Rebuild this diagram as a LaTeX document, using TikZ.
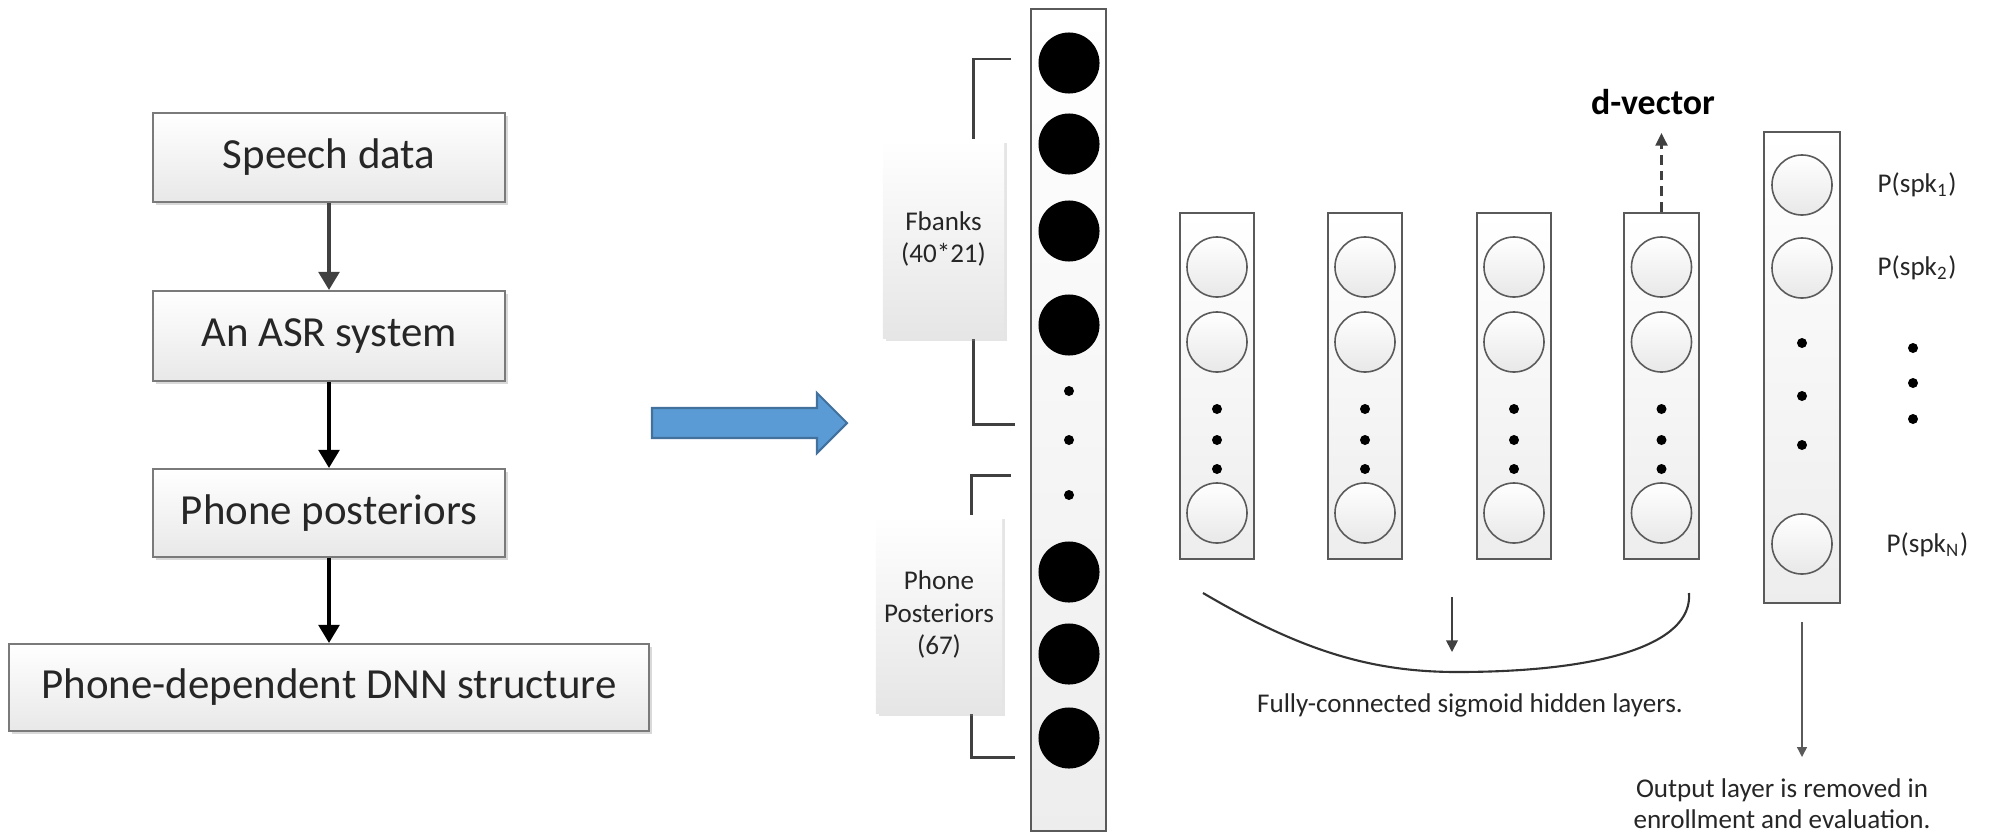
\documentclass[tikz,border=0pt]{standalone}
\usepackage{fontspec}
\setmainfont{Carlito}
\usetikzlibrary{arrows.meta,shadows}
\definecolor{txt}{HTML}{262626}
\definecolor{boxline}{HTML}{7A7A7A}
\definecolor{layerline}{HTML}{5A5A5A}
\definecolor{brk}{HTML}{404040}
\definecolor{arrA}{HTML}{404040}
\definecolor{blueF}{HTML}{5B9BD5}
\definecolor{blueD}{HTML}{41719C}
\definecolor{curvec}{HTML}{333333}
\begin{document}
\begin{tikzpicture}[x=0.01cm,y=-0.01cm,
  flowbox/.style={draw=boxline, line width=0.5pt, top color=white, bottom color=black!9, text=txt,
    font=\fontsize{12.2}{14}\selectfont, inner sep=0pt,
    drop shadow={shadow xshift=0.8pt, shadow yshift=-0.8pt, opacity=0.3, fill=black!50}},
  flowarrow/.style={line width=1.4pt, -{Triangle[width=5.8pt,length=5.2pt]}},
  lblbox/.style={top color=white, bottom color=black!10, inner sep=0pt, align=center, text=txt,
    font=\fontsize{7.7}{9.3}\selectfont,
    drop shadow={shadow xshift=0.8pt, shadow yshift=-0.8pt, opacity=0.25, fill=black!40}},
  layer/.style={draw=layerline, line width=0.45pt, top color=white, bottom color=black!7, inner sep=0pt},
  neuron/.style={circle, draw=layerline, line width=0.45pt, top color=white, bottom color=black!9,
    minimum size=0.6cm, inner sep=0pt},
  bneuron/.style={circle, fill=black, minimum size=0.61cm, inner sep=0pt},
  dotn/.style={circle, fill=black, minimum size=0.1cm, inner sep=0pt},
  bracket/.style={draw=brk, line width=0.85pt},
  dasharrow/.style={draw=brk, line width=0.7pt, dash pattern=on 2.8pt off 1.7pt,
    -{Triangle[width=3.4pt,length=3.6pt]}},
  thinarrow/.style={draw=layerline, line width=0.4pt, -{Triangle[width=2.8pt,length=2.8pt]}},
  midarrow/.style={draw=brk, line width=0.5pt, -{Triangle[width=3.3pt,length=3.3pt]}},
  curveline/.style={draw=curvec, line width=0.6pt},
  smalltxt/.style={text=txt, font=\fontsize{7.7}{9}\selectfont, inner sep=0pt, anchor=base},
  ptxt/.style={text=txt, font=\fontsize{7.7}{9}\selectfont, inner sep=0pt, anchor=west}
]
\useasboundingbox (0,0) rectangle (1990,833);

% ---------- flowchart ----------
\node[flowbox, minimum width=3.52cm, minimum height=0.89cm] (speech) at (329,157.5) {Speech data};
\node[flowbox, minimum width=3.52cm, minimum height=0.90cm] (asr) at (329,336) {An ASR system};
\node[flowbox, minimum width=3.52cm, minimum height=0.88cm] (post) at (329,513) {Phone posteriors};
\node[flowbox, minimum width=6.40cm, minimum height=0.87cm] (dnn) at (329,687.5) {Phone-dependent DNN structure};
\draw[flowarrow, draw=arrA, fill=arrA] (speech) -- (asr);
\draw[flowarrow, draw=black, fill=black] (asr) -- (post);
\draw[flowarrow, draw=black, fill=black] (post) -- (dnn);

% ---------- big blue arrow ----------
\draw[fill=blueF, draw=blueD, line width=0.6pt, line join=miter]
  (652,408) -- (817,408) -- (817,393) -- (847,423) -- (817,453) -- (817,438) -- (652,438) -- cycle;

% ---------- input layer ----------
\node[layer, minimum width=0.75cm, minimum height=8.22cm] (inbox) at (1068.5,420) {};
\foreach \y [count=\i] in {63,144,231,325,572,654,738}
  \node[bneuron] (in\i) at (1069,\y) {};
\foreach \y [count=\i] in {391,440,495}
  \node[dotn] (ind\i) at (1069,\y) {};

% brackets and labels
\coordinate (b1a) at (1011,59);
\coordinate (b1b) at (973,140);
\coordinate (b1c) at (973,338);
\coordinate (b1d) at (1015,424);
\draw[bracket] (b1a) -| (b1b);
\draw[bracket] (b1c) |- (b1d);
\node[lblbox, minimum width=1.21cm, minimum height=1.98cm] (fb) at (943.5,239) {Fbanks\\(40*21)};

\coordinate (b2a) at (1011,475);
\coordinate (b2b) at (971,516);
\coordinate (b2c) at (971,713);
\coordinate (b2d) at (1015,757);
\draw[bracket] (b2a) -| (b2b);
\draw[bracket] (b2c) |- (b2d);
\node[lblbox, minimum width=1.26cm, minimum height=1.97cm] (pp) at (939,614.5) {Phone\\Posteriors\\(67)};

% ---------- hidden layers ----------
\foreach \cx [count=\k] in {1217,1365,1514,1661.5} {
  \node[layer, minimum width=0.745cm, minimum height=3.46cm] (h\k) at (\cx,386) {};
  \node[neuron] (h\k-a) at (\cx,267) {};
  \node[neuron] (h\k-b) at (\cx,342) {};
  \node[neuron] (h\k-c) at (\cx,513) {};
  \node[dotn] (h\k-d1) at (\cx,409) {};
  \node[dotn] (h\k-d2) at (\cx,440) {};
  \node[dotn] (h\k-d3) at (\cx,469) {};
}

% d-vector
\node[text=black, font=\bfseries\fontsize{10.2}{12}\selectfont, anchor=base, inner sep=0pt] (dvec) at (1653,114) {d-vector};
\coordinate (dvtip) at (1661.5,133);
\draw[dasharrow] (h4.north) -- (dvtip);

% ---------- output layer ----------
\node[layer, minimum width=0.76cm, minimum height=4.71cm] (outbox) at (1802,367.5) {};
\node[neuron] (o1) at (1802,185) {};
\node[neuron] (o2) at (1802,268) {};
\node[neuron] (oN) at (1802,544) {};
\foreach \y [count=\i] in {343,396,445}
  \node[dotn] (od\i) at (1802,\y) {};

\node[ptxt] (p1) at (1877,185) {P(spk\textsubscript{1})};
\node[ptxt] (p2) at (1877,268) {P(spk\textsubscript{2})};
\node[ptxt] (pN) at (1886,545) {P(spk\textsubscript{N})};
\foreach \y [count=\i] in {348,383,419}
  \node[dotn] (pd\i) at (1913,\y) {};

% ---------- bottom annotations ----------
\coordinate (cl) at (1203,593);
\coordinate (cb) at (1457,672);
\coordinate (cr) at (1689,593);
\draw[curveline] (cl) .. controls (1300,650) and (1370,672) .. (cb) .. controls (1600,672) and (1693,645) .. (cr);
\coordinate (fa1) at (1452,597);
\coordinate (fa2) at (1452,652);
\draw[midarrow] (fa1) -- (fa2);
\node[smalltxt] (fully) at (1470,712) {Fully-connected sigmoid hidden layers.};

\coordinate (oa1) at (1802,622);
\coordinate (oa2) at (1802,757);
\draw[thinarrow] (oa1) -- (oa2);
\node[smalltxt] (out1) at (1782,797) {Output layer is removed in};
\node[smalltxt] (out2) at (1782,828) {enrollment and evaluation.};
\end{tikzpicture}
\end{document}
